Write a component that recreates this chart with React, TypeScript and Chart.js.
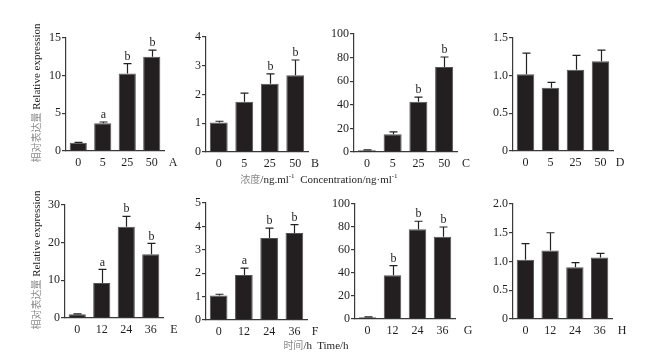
import React, { useEffect, useRef } from "react";
import { Chart, registerables } from "chart.js";

Chart.register(...registerables);

// ---------- DATA ----------
const concLabels = ["0", "5", "25", "50"];
const timeLabels = ["0", "12", "24", "36"];

const valuesA = [1.1, 3.7, 10.3, 12.5];
const errorsA = [0.05, 0.15, 1.3, 0.9];
const lettersA = ["", "a", "b", "b"];

const valuesB = [1.03, 1.75, 2.37, 2.67];
const errorsB = [0.04, 0.3, 0.35, 0.53];
const lettersB = ["", "", "b", "b"];

const valuesC = [1.5, 15, 42.5, 72];
const errorsC = [0.3, 2, 4, 8.5];
const lettersC = ["", "", "b", "b"];

const valuesD = [1.02, 0.84, 1.08, 1.19];
const errorsD = [0.28, 0.07, 0.19, 0.15];
const lettersD = ["", "", "", ""];

const valuesE = [1, 9.3, 24.2, 16.9];
const errorsE = [0.1, 3.6, 2.8, 2.9];
const lettersE = ["", "a", "b", "b"];

const valuesF = [1.05, 1.92, 3.5, 3.72];
const errorsF = [0.05, 0.3, 0.43, 0.36];
const lettersF = ["", "a", "b", "b"];

const valuesG = [1.5, 38, 78, 71.5];
const errorsG = [0.3, 8.5, 7, 8.5];
const lettersG = ["", "b", "b", "b"];

const valuesH = [1.03, 1.19, 0.9, 1.07];
const errorsH = [0.28, 0.31, 0.08, 0.07];
const lettersH = ["", "", "", ""];

const yMaxA = 15, yStepA = 5;
const yMaxB = 4, yStepB = 1;
const yMaxC = 100, yStepC = 20;
const yMaxD = 1.5, yStepD = 0.5;
const yMaxE = 30, yStepE = 10;
const yMaxF = 5, yStepF = 1;
const yMaxG = 100, yStepG = 20;
const yMaxH = 2, yStepH = 0.5;

const yTitleCn = "相对表达量";
const yTitleEn = "Relative expression";
const xTitleConcCn = "浓度";
const xTitleTimeCn = "时间";

// ---------- STYLE / LAYOUT ----------
const SERIF = "'Liberation Serif', 'DejaVu Serif', serif";
const CJK = "'Noto Sans CJK SC', sans-serif";
const AXIS = "#3a3a3a";
const TEXT = "#1e1e1e";
const BAR = "#231f20";
const YW = 32;
const PT = 14;
const PR = 22;
const XH = 24;

type PanelCfg = {
  name: string;
  labels: string[];
  values: number[];
  errors: number[];
  letters: string[];
  yMax: number;
  yStep: number;
  decimals: boolean;
  axisX: number;
  right: number;
  top: number;
  bottom: number;
  letterDx: number;
};

const panels: PanelCfg[] = [
  { name: "A", labels: concLabels, values: valuesA, errors: errorsA, letters: lettersA, yMax: yMaxA, yStep: yStepA, decimals: false, axisX: 66, right: 164, top: 38, bottom: 151, letterDx: 9 },
  { name: "B", labels: concLabels, values: valuesB, errors: errorsB, letters: lettersB, yMax: yMaxB, yStep: yStepB, decimals: false, axisX: 206, right: 308, top: 37, bottom: 152, letterDx: 7 },
  { name: "C", labels: concLabels, values: valuesC, errors: errorsC, letters: lettersC, yMax: yMaxC, yStep: yStepC, decimals: false, axisX: 354, right: 457, top: 34, bottom: 152, letterDx: 9 },
  { name: "D", labels: concLabels, values: valuesD, errors: errorsD, letters: lettersD, yMax: yMaxD, yStep: yStepD, decimals: true, axisX: 513, right: 613, top: 38, bottom: 151, letterDx: 7 },
  { name: "E", labels: timeLabels, values: valuesE, errors: errorsE, letters: lettersE, yMax: yMaxE, yStep: yStepE, decimals: false, axisX: 65, right: 163, top: 205, bottom: 318, letterDx: 11 },
  { name: "F", labels: timeLabels, values: valuesF, errors: errorsF, letters: lettersF, yMax: yMaxF, yStep: yStepF, decimals: false, axisX: 206, right: 307, top: 203, bottom: 320, letterDx: 8 },
  { name: "G", labels: timeLabels, values: valuesG, errors: errorsG, letters: lettersG, yMax: yMaxG, yStep: yStepG, decimals: false, axisX: 355, right: 455, top: 204, bottom: 319, letterDx: 13 },
  { name: "H", labels: timeLabels, values: valuesH, errors: errorsH, letters: lettersH, yMax: yMaxH, yStep: yStepH, decimals: true, axisX: 513, right: 612, top: 204, bottom: 319, letterDx: 10 },
];

function Panel({ cfg }: { cfg: PanelCfg }) {
  const ref = useRef<HTMLCanvasElement | null>(null);
  const width = YW + (cfg.right - cfg.axisX) + PR;
  const height = PT + (cfg.bottom - cfg.top) + XH;

  useEffect(() => {
    if (!ref.current) return;
    const errPlugin = {
      id: "errbars" + cfg.name,
      afterDatasetsDraw(chart: any) {
        const ctx = chart.ctx;
        const meta = chart.getDatasetMeta(0);
        const ys = chart.scales.y;
        ctx.save();
        ctx.strokeStyle = "#222";
        ctx.lineWidth = 1.2;
        meta.data.forEach((bar: any, i: number) => {
          const x = Math.round(bar.x) + 0.5;
          const yv = ys.getPixelForValue(cfg.values[i]);
          const yt = ys.getPixelForValue(cfg.values[i] + cfg.errors[i]);
          ctx.beginPath();
          ctx.moveTo(x, yv);
          ctx.lineTo(x, yt);
          ctx.moveTo(x - 4, yt);
          ctx.lineTo(x + 4, yt);
          ctx.stroke();
          const lt = cfg.letters[i];
          if (lt) {
            ctx.fillStyle = TEXT;
            ctx.font = "12px " + SERIF;
            ctx.textAlign = "center";
            ctx.textBaseline = "bottom";
            ctx.fillText(lt, x, yt - 1);
          }
        });
        // panel letter
        const ca = chart.chartArea;
        ctx.fillStyle = TEXT;
        ctx.font = "12px " + SERIF;
        ctx.textAlign = "center";
        ctx.textBaseline = "middle";
        ctx.fillText(cfg.name, ca.right + cfg.letterDx, ca.bottom + 12);
        ctx.restore();
      },
    };

    const chart = new Chart(ref.current, {
      type: "bar",
      data: {
        labels: cfg.labels,
        datasets: [
          {
            data: cfg.values,
            backgroundColor: BAR,
            borderColor: "#555",
            borderWidth: 1,
            barPercentage: 0.7,
            categoryPercentage: 1,
          },
        ],
      },
      options: {
        animation: false,
        responsive: false,
        maintainAspectRatio: false,
        layout: { padding: { top: PT, right: PR, left: 0, bottom: 0 } },
        plugins: { legend: { display: false }, tooltip: { enabled: false } },
        scales: {
          x: {
            offset: true,
            grid: { display: false, drawTicks: false },
            border: { color: AXIS, width: 1.2 },
            ticks: { color: TEXT, font: { family: SERIF, size: 12 }, padding: 5, maxRotation: 0, autoSkip: false },
            afterFit: (s: any) => {
              s.height = XH;
            },
          },
          y: {
            min: 0,
            max: cfg.yMax,
            border: { color: AXIS, width: 1.2 },
            grid: { drawOnChartArea: false, drawTicks: true, tickLength: 4, color: AXIS, lineWidth: 1.2 },
            ticks: {
              stepSize: cfg.yStep,
              color: TEXT,
              font: { family: SERIF, size: 12 },
              padding: 1,
              callback: (v: any) => {
                const n = Number(v);
                if (n === 0) return "0";
                return cfg.decimals ? n.toFixed(1) : String(n);
              },
            },
            afterFit: (s: any) => {
              s.width = YW;
            },
          },
        },
      } as any,
      plugins: [errPlugin],
    });
    return () => chart.destroy();
  }, [cfg]);

  return (
    <canvas
      ref={ref}
      width={width}
      height={height}
      style={{
        position: "absolute",
        left: cfg.axisX - YW,
        top: cfg.top - PT,
        width,
        height,
      }}
    />
  );
}

function YTitle({ cx, cy }: { cx: number; cy: number }) {
  return (
    <div
      style={{
        position: "absolute",
        left: cx - 100,
        top: cy - 8,
        width: 200,
        height: 16,
        lineHeight: "16px",
        textAlign: "center",
        transform: "rotate(-90deg)",
        whiteSpace: "nowrap",
        fontSize: 11,
      }}
    >
      <span style={{ fontFamily: CJK, color: "#8a8a8a", fontSize: 10 }}>{yTitleCn}</span>
      <span style={{ fontFamily: SERIF, color: TEXT }}> {yTitleEn}</span>
    </div>
  );
}

function XTitle({ cx, cy, children }: { cx: number; cy: number; children: any }) {
  return (
    <div
      style={{
        position: "absolute",
        left: cx - 150,
        top: cy - 8,
        width: 300,
        height: 16,
        lineHeight: "16px",
        textAlign: "center",
        whiteSpace: "nowrap",
        fontSize: 11,
        fontFamily: SERIF,
        color: TEXT,
      }}
    >
      {children}
    </div>
  );
}

const supStyle: any = { fontSize: 7, verticalAlign: "top", lineHeight: "10px" };

export default function App() {
  return (
    <div
      style={{
        position: "absolute",
        left: 0,
        top: 0,
        width: 653,
        height: 355,
        background: "#fff",
        overflow: "hidden",
      }}
    >
      {panels.map((p) => (
        <Panel key={p.name} cfg={p} />
      ))}
      <YTitle cx={36} cy={93} />
      <YTitle cx={36} cy={260} />
      <XTitle cx={319} cy={179}>
        <span style={{ fontFamily: CJK, color: "#8a8a8a", fontSize: 10 }}>{xTitleConcCn}</span>
        /ng.ml<span style={supStyle}>-1</span>&nbsp; Concentration/ng·ml<span style={supStyle}>-1</span>
      </XTitle>
      <XTitle cx={316} cy={345}>
        <span style={{ fontFamily: CJK, color: "#8a8a8a", fontSize: 10 }}>{xTitleTimeCn}</span>
        /h&nbsp; Time/h
      </XTitle>
    </div>
  );
}
